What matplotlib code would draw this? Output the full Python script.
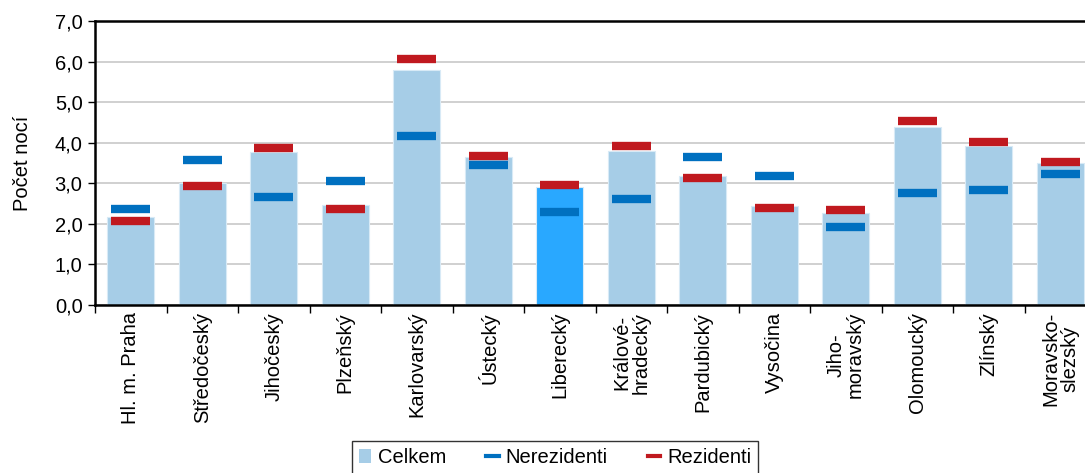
import numpy as np
import matplotlib.pyplot as plt
from matplotlib.patches import Patch
from matplotlib.lines import Line2D

plt.rcParams['font.family'] = ['Liberation Sans', 'DejaVu Sans']

kraje = ['Hl. m. Praha', 'Středočeský', 'Jihočeský', 'Plzeňský', 'Karlovarský',
         'Ústecký', 'Liberecký', 'Králové-\nhradecký', 'Pardubický', 'Vysočina',
         'Jiho-\nmoravský', 'Olomoucký', 'Zlínský', 'Moravsko-\nslezský']
celkem = [2.16, 3.00, 3.76, 2.47, 5.80, 3.64, 2.91, 3.80, 3.19, 2.44, 2.27, 4.38, 3.92, 3.49]
nerezidenti = [2.36, 3.57, 2.66, 3.06, 4.16, 3.46, 2.28, 2.62, 3.66, 3.19, 1.93, 2.76, 2.84, 3.24]
rezidenti = [2.07, 2.94, 3.87, 2.36, 6.07, 3.67, 2.97, 3.91, 3.14, 2.39, 2.34, 4.54, 4.02, 3.52]
zvyrazneny = 'Liberecký'

c_celkem = '#a6cde7'
c_zvyr = '#29a8ff'
c_nerez = '#0070c0'
c_rez = '#c0191f'

fig = plt.figure(figsize=(10.85, 4.73), dpi=100)
ax = fig.add_axes([95 / 1085, 168 / 473, 1001 / 1085, 284 / 473])

x = np.arange(len(kraje))
barvy = [c_zvyr if k == zvyrazneny else c_celkem for k in kraje]
ax.bar(x, celkem, width=0.66, color=barvy, edgecolor='#d8eaf6', linewidth=0.8, zorder=2)
ax.hlines(nerezidenti, x - 0.27, x + 0.27, colors=c_nerez, linewidth=6, zorder=3)
ax.hlines(rezidenti, x - 0.27, x + 0.27, colors=c_rez, linewidth=6, zorder=3)

ax.set_xlim(-0.5, len(kraje) - 0.5)
ax.set_ylim(0, 7)
ax.set_yticks(np.arange(0, 7.1, 1))
ax.set_yticklabels([f'{v:.1f}'.replace('.', ',') for v in np.arange(0, 7.1, 1)], fontsize=14.5)
ax.yaxis.grid(True, color='#c8c8c8', linewidth=1.2, zorder=0)
ax.set_axisbelow(True)

ax.set_xticks(x)
ax.set_xticklabels(kraje, rotation=90, fontsize=14.5, va='top', ha='center', linespacing=1.0)
ax.tick_params(axis='x', length=0, pad=5)
ax.set_xticks(np.arange(-0.5, len(kraje), 1), minor=True)
ax.tick_params(axis='x', which='minor', length=6, width=1, direction='out')
ax.tick_params(axis='y', length=5, width=1, direction='out', pad=4)

for s in ['left', 'bottom', 'top']:
    ax.spines[s].set_color('black')
    ax.spines[s].set_linewidth(1.8)
ax.spines['right'].set_visible(False)

ax.set_ylabel('Počet nocí', fontsize=14.5, labelpad=16)

handles = [Patch(facecolor=c_celkem, edgecolor='none'),
           Line2D([0], [0], color=c_nerez, linewidth=3),
           Line2D([0], [0], color=c_rez, linewidth=3)]
leg = fig.legend(handles, ['Celkem', 'Nerezidenti', 'Rezidenti'], loc='upper center',
                 bbox_to_anchor=(555 / 1085, 1 - 441 / 473), ncol=3, fontsize=14.5,
                 frameon=True, fancybox=False, edgecolor='black', borderpad=0.35,
                 borderaxespad=0, handlelength=0.6, handletextpad=0.35,
                 columnspacing=2.0)
leg.get_frame().set_linewidth(1.0)

fig.savefig('out.png', dpi=100)
